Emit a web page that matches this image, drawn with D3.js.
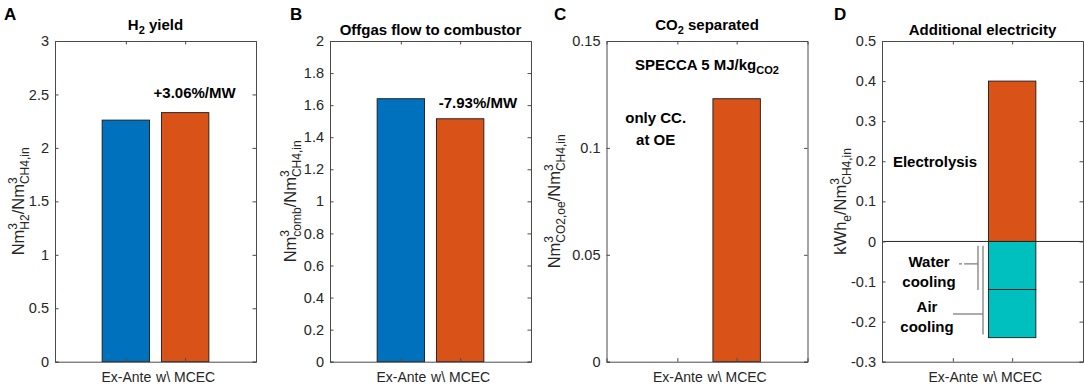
<!DOCTYPE html>
<html>
<head>
<meta charset="utf-8">
<script src="https://cdn.jsdelivr.net/npm/d3@7"></script>
<style>
body{margin:0;background:#fff;}
svg{font-family:"Liberation Sans",Arial,sans-serif;}
</style>
</head>
<body>
<div id="chart"></div>
<script>
var categories = ["Ex-Ante", "w\\ MCEC"];
var h2Yield = [2.26, 2.33];
var offgasFlow = [1.64, 1.515];
var co2Separated = [0, 0.123];
var electrolysis = [0, 0.40];
var waterCooling = [0, -0.12];
var airCooling = [0, -0.12];

var ticksA = [0, 0.5, 1, 1.5, 2, 2.5, 3];
var ticksB = [0, 0.2, 0.4, 0.6, 0.8, 1, 1.2, 1.4, 1.6, 1.8, 2];
var ticksC = [0, 0.05, 0.1, 0.15];
var ticksD = [-0.3, -0.2, -0.1, 0, 0.1, 0.2, 0.3, 0.4, 0.5];

var blue = "#0072bd", orange = "#d95319", teal = "#00bfbf";
var axisColor = "#4a4a4a", textColor = "#262626";

var width = 1084, height = 384;
var top_ = 41, bottom_ = 361.7;

var svg = d3.select("#chart")
    .append("svg")
    .attr("width", width)
    .attr("height", height);

function fmt(d){
  return String(+d.toFixed(2));
}

// rotated y label with stacked super/subscripts
function yLabel(g, x, y, parts){
  var t = g.append("text")
      .attr("transform", "translate(" + x + "," + y + ") rotate(-90)")
      .attr("text-anchor", "middle")
      .attr("font-size", 16.5)
      .attr("fill", textColor);
  var shift = 0, supW = 0;
  parts.forEach(function(p){
    var target = p[1] == "sup" ? -7.5 : (p[1] == "sub" ? 4.5 : 0);
    var ts = t.append("tspan")
        .attr("dy", target - shift)
        .attr("font-size", p[1] == "n" ? 16.5 : 12)
        .text(p[0]);
    if (p[1] == "sub" && supW > 0) { ts.attr("dx", -supW); supW = 0; }
    if (p[1] == "sup") supW = ts.node().getComputedTextLength();
    shift = target;
  });
}

function titleText(g, x, y, parts){
  var t = g.append("text")
      .attr("x", x).attr("y", y)
      .attr("text-anchor", "middle")
      .attr("font-size", 15)
      .attr("font-weight", "bold")
      .attr("fill", "#000");
  var shift = 0;
  parts.forEach(function(p){
    var target = p[1] == "sub" ? 4 : 0;
    t.append("tspan")
        .attr("dy", target - shift)
        .attr("font-size", p[1] == "sub" ? 11 : 15)
        .text(p[0]);
    shift = target;
  });
  return t;
}

function drawPanel(cfg){
  var g = svg.append("g");
  var left = cfg.left, right = cfg.left + 201;

  var xScale = d3.scaleLinear()
      .domain([-0.195, 3.195])
      .range([left, right]);
  var yScale = d3.scaleLinear()
      .domain(cfg.domain)
      .range([bottom_, top_]);

  // bars
  cfg.draw(g, xScale, yScale);

  // y axis left, ticks inward
  var yAxis = d3.axisLeft(yScale)
      .tickValues(cfg.ticks)
      .tickSize(-3.5)
      .tickPadding(6)
      .tickFormat(fmt);
  var ya = g.append("g")
      .attr("transform", "translate(" + left + ",0)")
      .call(yAxis);
  ya.select(".domain").attr("stroke", axisColor);
  ya.selectAll(".tick line").attr("stroke", axisColor);
  ya.selectAll("text").attr("font-size", 14.5).attr("fill", textColor)
      .attr("font-family", "Liberation Sans, Arial, sans-serif");

  var yAxisR = d3.axisRight(yScale)
      .tickValues(cfg.ticks)
      .tickSize(-3.5)
      .tickFormat("");
  var yr = g.append("g")
      .attr("transform", "translate(" + right + ",0)")
      .call(yAxisR);
  yr.select(".domain").attr("stroke", axisColor);
  yr.selectAll(".tick line").attr("stroke", axisColor);

  // x axis bottom and top
  var xAxis = d3.axisBottom(xScale)
      .tickValues([1, 2])
      .tickSize(-3.5)
      .tickPadding(10)
      .tickFormat(function(d){ return categories[d - 1]; });
  var xa = g.append("g")
      .attr("transform", "translate(0," + bottom_ + ")")
      .call(xAxis);
  xa.select(".domain").attr("stroke", axisColor);
  xa.selectAll(".tick line").attr("stroke", axisColor);
  xa.selectAll("text").attr("font-size", 14).attr("fill", textColor)
      .attr("font-family", "Liberation Sans, Arial, sans-serif");

  var xAxisT = d3.axisTop(xScale)
      .tickValues([1, 2])
      .tickSize(-3.5)
      .tickFormat("");
  var xt = g.append("g")
      .attr("transform", "translate(0," + top_ + ")")
      .call(xAxisT);
  xt.select(".domain").attr("stroke", axisColor);
  xt.selectAll(".tick line").attr("stroke", axisColor);

  // panel letter
  g.append("text")
      .attr("x", cfg.letterX)
      .attr("y", 20)
      .attr("font-size", 17)
      .attr("font-weight", "bold")
      .text(cfg.letter);

  titleText(g, (left + right) / 2, cfg.titleY, cfg.title);
  yLabel(g, cfg.labelX, (top_ + bottom_) / 2, cfg.label);

  if (cfg.notes) cfg.notes(g, xScale, yScale);
}

function simpleBars(values){
  return function(g, xScale, yScale){
    var colors = [blue, orange];
    g.selectAll("rect.bar")
        .data(values)
        .enter()
        .append("rect")
        .attr("class", "bar")
        .attr("x", function(d, i){ return xScale(i + 1 - 0.4); })
        .attr("width", function(d, i){ return xScale(i + 1.4) - xScale(i + 0.6); })
        .attr("y", function(d){ return yScale(d); })
        .attr("height", function(d){ return yScale(0) - yScale(d); })
        .attr("fill", function(d, i){ return colors[i]; })
        .attr("stroke", "#1a1a1a")
        .attr("stroke-width", 0.9)
        .attr("display", function(d){ return d == 0 ? "none" : null; });
  };
}

function note(g, x, y, txt){
  return g.append("text")
      .attr("x", x).attr("y", y)
      .attr("text-anchor", "middle")
      .attr("font-size", 15)
      .attr("font-weight", "bold")
      .text(txt);
}

// A
drawPanel({
  left: 55, domain: [0, 3], ticks: ticksA, letter: "A", letterX: 4,
  title: [["H", "n"], ["2", "sub"], [" yield", "n"]], titleY: 30,
  labelX: 24,
  label: [["Nm", "n"], ["3", "sup"], ["H2", "sub"], ["/Nm", "n"], ["3", "sup"], ["CH4,in", "sub"]],
  draw: simpleBars(h2Yield),
  notes: function(g, xScale, yScale){
    note(g, xScale(2.16), yScale(2.465), "+3.06%/MW");
  }
});

// B
drawPanel({
  left: 330, domain: [0, 2], ticks: ticksB, letter: "B", letterX: 290,
  title: [["Offgas flow to combustor", "n"]], titleY: 35,
  labelX: 296,
  label: [["Nm", "n"], ["3", "sup"], ["comb", "sub"], ["/Nm", "n"], ["3", "sup"], ["CH4,in", "sub"]],
  draw: simpleBars(offgasFlow),
  notes: function(g, xScale, yScale){
    note(g, xScale(2.3), yScale(1.585), "-7.93%/MW");
  }
});

// C
drawPanel({
  left: 606.5, domain: [0, 0.15], ticks: ticksC, letter: "C", letterX: 554,
  title: [["CO", "n"], ["2", "sub"], [" separated", "n"]], titleY: 30,
  labelX: 560,
  label: [["Nm", "n"], ["3", "sup"], ["CO2,oe", "sub"], ["/Nm", "n"], ["3", "sup"], ["CH4,in", "sub"]],
  draw: simpleBars(co2Separated),
  notes: function(g, xScale, yScale){
    var t = g.append("text")
        .attr("x", xScale(1.5)).attr("y", yScale(0.1365))
        .attr("text-anchor", "middle")
        .attr("font-size", 15)
        .attr("font-weight", "bold");
    t.append("tspan").text("SPECCA 5 MJ/kg");
    t.append("tspan").attr("dy", 4).attr("font-size", 11).text("CO2");
    note(g, xScale(0.635), yScale(0.1116), "only CC.");
    note(g, xScale(0.635), yScale(0.1013), "at OE");
  }
});

// D
drawPanel({
  left: 882, domain: [-0.3, 0.5], ticks: ticksD, letter: "D", letterX: 834,
  title: [["Additional electricity", "n"]], titleY: 35,
  labelX: 846,
  label: [["kWh", "n"], ["e", "sub"], ["/Nm", "n"], ["3", "sup"], ["CH4,in", "sub"]],
  draw: function(g, xScale, yScale){
    // stacked: electrolysis above zero, cooling parts below
    var segs = [];
    for (var i = 0; i < categories.length; i++) {
      if (electrolysis[i] != 0) segs.push({i: i, y0: 0, y1: electrolysis[i], c: orange});
      if (waterCooling[i] != 0) segs.push({i: i, y0: 0, y1: waterCooling[i], c: teal});
      if (airCooling[i] != 0) segs.push({i: i, y0: waterCooling[i], y1: waterCooling[i] + airCooling[i], c: teal});
    }
    g.selectAll("rect.seg")
        .data(segs)
        .enter()
        .append("rect")
        .attr("class", "seg")
        .attr("x", function(d){ return xScale(d.i + 1 - 0.4); })
        .attr("width", function(d){ return xScale(d.i + 1.4) - xScale(d.i + 0.6); })
        .attr("y", function(d){ return yScale(Math.max(d.y0, d.y1)); })
        .attr("height", function(d){ return Math.abs(yScale(d.y0) - yScale(d.y1)); })
        .attr("fill", function(d){ return d.c; })
        .attr("stroke", "#1a1a1a")
        .attr("stroke-width", 0.9);
    g.append("line")
        .attr("x1", xScale.range()[0]).attr("x2", xScale.range()[1])
        .attr("y1", yScale(0)).attr("y2", yScale(0))
        .attr("stroke", "#262626");
  },
  notes: function(g, xScale, yScale){
    note(g, 935, yScale(0.2) + 5.5, "Electrolysis");
    note(g, 929, yScale(-0.064), "Water");
    note(g, 929, yScale(-0.114), "cooling");
    note(g, 927, yScale(-0.176), "Air");
    note(g, 927, yScale(-0.226), "cooling");
    var br = "#7f7f7f";
    // water cooling bracket
    g.append("line").attr("x1", 978).attr("x2", 978)
        .attr("y1", yScale(-0.011)).attr("y2", yScale(-0.121)).attr("stroke", br).attr("stroke-width", 1.3);
    g.append("line").attr("x1", 959).attr("x2", 978)
        .attr("y1", yScale(-0.056)).attr("y2", yScale(-0.056)).attr("stroke", br).attr("stroke-width", 1.3)
        .attr("stroke-dasharray", "3,2,14");
    // air cooling bracket
    g.append("line").attr("x1", 983).attr("x2", 983)
        .attr("y1", yScale(-0.011)).attr("y2", yScale(-0.232)).attr("stroke", br).attr("stroke-width", 1.3);
    g.append("line").attr("x1", 953).attr("x2", 983)
        .attr("y1", yScale(-0.181)).attr("y2", yScale(-0.181)).attr("stroke", br).attr("stroke-width", 1.3);
  }
});
</script>
</body>
</html>
